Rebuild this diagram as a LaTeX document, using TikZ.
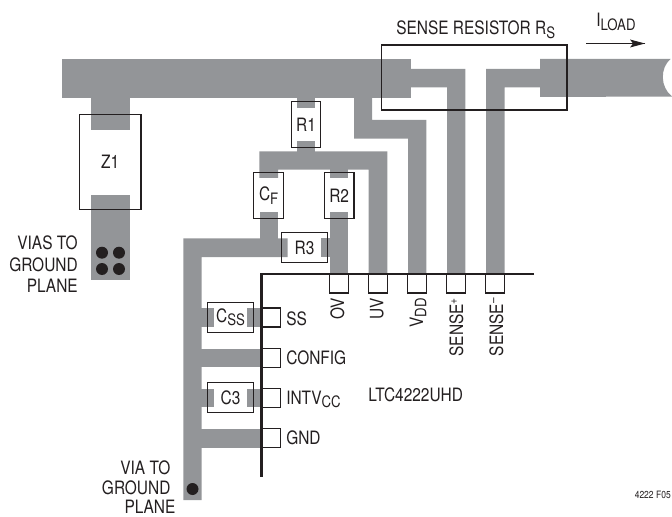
\documentclass[tikz,border=0pt]{standalone}
\usepackage{fontspec}
\setmainfont[FakeStretch=0.84]{TeX Gyre Heros}
\definecolor{tracegrey}{HTML}{939598}
\definecolor{ink}{HTML}{231F20}
\newcommand{\sbs}[1]{\raisebox{-2.6pt}{\fontsize{11.8pt}{13pt}\selectfont #1}}
\newcommand{\sps}[1]{\raisebox{4.4pt}{\fontsize{9pt}{10pt}\selectfont #1}}
\tikzset{
  trace/.style={fill=tracegrey,draw=none},
  part/.style={draw=ink,line width=0.85pt,inner sep=0pt,text=ink,font=\fontsize{13.8pt}{16pt}\selectfont},
  partv/.style={part,minimum width=22.2pt,minimum height=34.7pt},
  parth/.style={part,minimum width=34.5pt,minimum height=22.2pt},
  pinbox/.style={draw=ink,line width=0.85pt,inner sep=0pt,minimum width=13.9pt,minimum height=14.2pt},
  lab/.style={inner sep=0pt,text=ink,font=\fontsize{13.8pt}{16pt}\selectfont},
  rlab/.style={lab,rotate=90,anchor=base east},
  via/.style={circle,fill=ink,draw=none,minimum size=9pt,inner sep=0pt},
}
\begin{document}
\begin{tikzpicture}[x=0.75pt,y=-0.75pt]
\useasboundingbox (0,0) rectangle (672,517);
% copper
\fill[trace] (62,59) rectangle (411,98);
\fill[trace] (540,59) -- (670.5,59) .. controls (660,68) and (660,87) .. (672,96.5) -- (540,97) -- cycle;
\fill[trace] (91,97) rectangle (130,130);
\fill[trace] (91,195) rectangle (130,280);
\fill[trace] (297,97) rectangle (315,108);
\fill[trace] (297,141) rectangle (315,152);
\fill[trace] (354,97) -- (372,97) -- (372,120) -- (426.3,120) -- (426.3,274) -- (408,274) -- (408,138.7) -- (354,138.7) -- cycle;
\fill[trace] (410,69) -- (465.3,69) -- (465.3,274) -- (447,274) -- (447,87.3) -- (410,87.3) -- cycle;
\fill[trace] (541,69) -- (486,69) -- (486,274) -- (504.7,274) -- (504.7,87.3) -- (541,87.3) -- cycle;
\fill[trace] (259.3,151.3) -- (387.3,151.3) -- (387.3,274) -- (368.7,274) -- (368.7,169.7) -- (278,169.7) -- (278,178) -- (259.3,178) -- cycle;
\fill[trace] (330,169) rectangle (348,178);
\fill[trace] (260,212) rectangle (278,239);
\fill[trace] (183.3,238.3) -- (287.7,238.3) -- (287.7,257) -- (201.7,257) -- (201.7,500) -- (183.3,500) -- cycle;
\fill[trace] (321,238.3) rectangle (331,257);
\fill[trace] (330,212) rectangle (348,274);
\fill[trace] (195,308) rectangle (214,327);
\fill[trace] (247,308) rectangle (262,327);
\fill[trace] (195,348.5) rectangle (262,367);
\fill[trace] (195,388.5) rectangle (214,407);
\fill[trace] (247,388.5) rectangle (262,407);
\fill[trace] (195,429) rectangle (262,447.5);
% vias
\node[via] (v1) at (102,252.7) {};
\node[via] (v2) at (119,252.7) {};
\node[via] (v3) at (102,269) {};
\node[via] (v4) at (119,269) {};
\node[via] (v5) at (192.5,489) {};
% parts
\node[part,minimum width=46.1pt,minimum height=70.9pt] (z1) at (110.2,162.2) {Z1};
\node[partv] (r1) at (306,124.5) {R1};
\node[partv] (cf) at (268.7,195.5) {C\sbs{F}};
\node[partv] (r2) at (339.2,195.5) {R2};
\node[parth] (r3) at (304.5,247.7) {R3};
\node[parth] (css) at (230.5,317.5) {C\sbs{SS}};
\node[parth] (c3) at (230.5,397.7) {C3};
\node[draw=ink,line width=0.85pt,inner sep=0pt,minimum width=139.3pt,minimum height=48.8pt] (rs) at (474.1,77.5) {};
% chip
\coordinate (chipr) at (534,274);
\coordinate (chipc) at (261.5,274);
\coordinate (chipb) at (261.5,477);
\draw[ink,line width=2pt] (chipr) -- (chipc) -- (chipb);
% pins
\node[pinbox] (pov) at (339,283.5) {};
\node[pinbox] (puv) at (378,283.5) {};
\node[pinbox] (pvdd) at (417,283.5) {};
\node[pinbox] (pse) at (456,283.5) {};
\node[pinbox] (psm) at (495,283.5) {};
\node[pinbox] (pss) at (271,317.5) {};
\node[pinbox] (pcfg) at (271,358) {};
\node[pinbox] (pint) at (271,398) {};
\node[pinbox] (pgnd) at (271,438) {};
% labels
\node[rlab] (lov) at (344,298) {OV};
\node[rlab] (luv) at (383.3,298) {UV};
\node[rlab] (lvdd) at (423,298) {V\sbs{DD}};
\node[rlab] (lsp) at (463,298) {SENSE\sps{+}};
\node[rlab] (lsm) at (503,298) {SENSE\sps{--}};
\node[lab,anchor=base west] (lss) at (286,325) {SS};
\node[lab,anchor=base west] (lcfg) at (286,364.5) {CONFIG};
\node[lab,anchor=base west] (lint) at (286,404.5) {INTV\sbs{CC}};
\node[lab,anchor=base west] (lgnd) at (286,444.5) {GND};
\node[lab,anchor=base west] (lic) at (368,401.5) {LTC4222UHD};
\node[lab,anchor=base west] (lrs) at (396,35) {SENSE RESISTOR R\sbs{S}};
\node[lab,anchor=base west] (lil) at (596,27) {I\sbs{LOAD}};
\node[lab,anchor=base east] (a1) at (78,249.5) {VIAS TO};
\node[lab,anchor=base east] (a2) at (78,271) {GROUND};
\node[lab,anchor=base east] (a3) at (78,292.5) {PLANE};
\node[lab,anchor=base east] (b1) at (170.7,474) {VIA TO};
\node[lab,anchor=base east] (b2) at (170.7,494.5) {GROUND};
\node[lab,anchor=base east] (b3) at (175.7,513.5) {PLANE};
\node[inner sep=0pt,text=ink,anchor=base east,font=\fontsize{7.6pt}{9pt}\selectfont] (fig) at (671,498) {4222 F05};
% current arrow
\coordinate (ia) at (586,43.5);
\coordinate (ib) at (645,43.5);
\draw[ink,line width=0.8pt] (ia) -- (ib);
\fill[ink] (ib) -- (630,39.5) -- (633,43.5) -- (630,47.5) -- cycle;
\end{tikzpicture}
\end{document}
